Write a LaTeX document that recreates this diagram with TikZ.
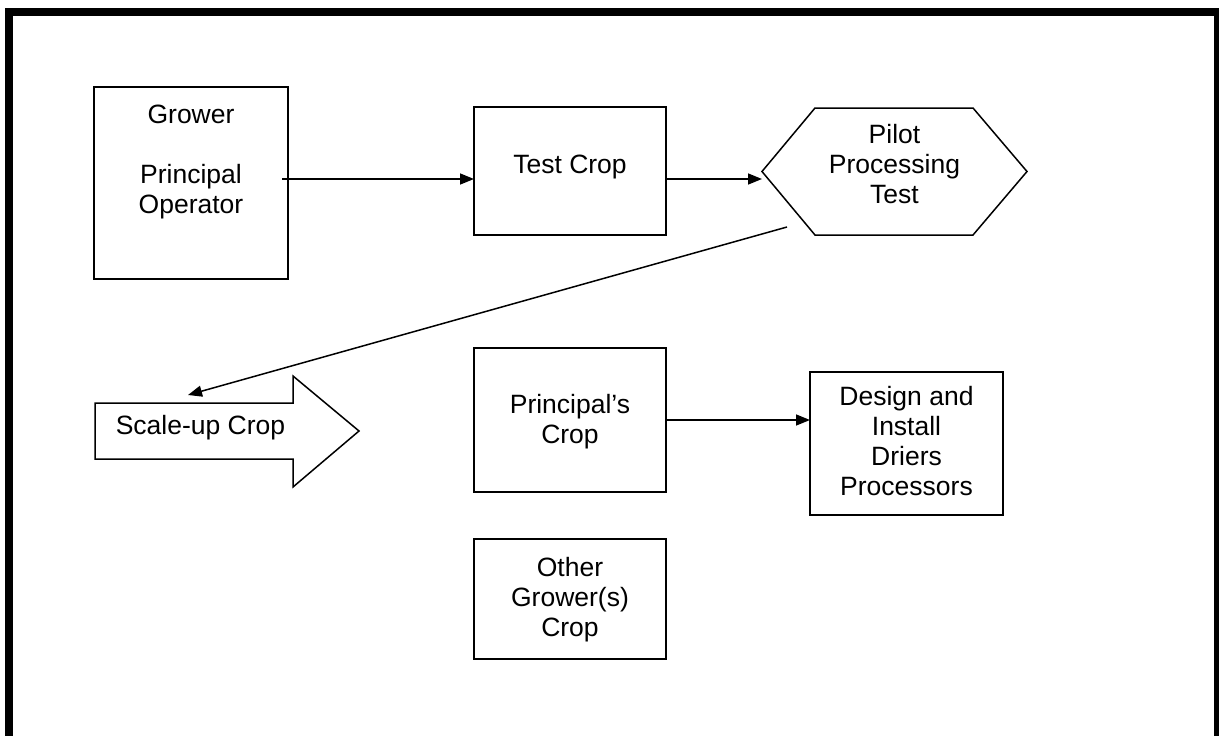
\documentclass[tikz,border=0pt]{standalone}
\usepackage{fontspec}
\setmainfont{Liberation Sans}
\usetikzlibrary{arrows.meta}
\newcommand\btext[4]{\parbox[c][#2][t]{#1}{\centering\vspace*{#3}\strut #4\par}}
\tikzset{
  box/.style={draw, line width=1.5pt, inner sep=0pt, outer sep=0pt},
  hexbox/.style={draw=none, inner sep=0pt, outer sep=0pt},
  arr/.style={line width=1.5pt, -{Triangle[length=14pt,width=11pt]}},
  frame/.style={line width=8pt}
}
\begin{document}
\begin{tikzpicture}[x=1pt,y=-1pt,font=\fontsize{26.5pt}{30pt}\selectfont]
\useasboundingbox (0,0) rectangle (1219,736);
\clip (0,0) rectangle (1219,736);
\fill[white] (0,0) rectangle (1219,736);
\draw[frame] (9,12) rectangle (1218,760);

\node[box] (grower) at (191,183) {\btext{194pt}{192pt}{15pt}{Grower\\\strut\\Principal\\Operator}};
\node[box] (test) at (570,171) {\btext{192pt}{128pt}{45pt}{Test Crop}};
\node[hexbox] (hex) at (894.5,171.5) {\btext{265pt}{127pt}{14pt}{Pilot\\Processing\\Test}};
\draw[line width=1.5pt] (hex.west) -- ([xshift=53pt]hex.north west) -- ([xshift=-54pt]hex.north east)
  -- (hex.east) -- ([xshift=-54pt]hex.south east) -- ([xshift=53pt]hex.south west) -- cycle;

\node[hexbox] (scale) at (194,431) {\btext{198pt}{56pt}{10pt}{\hspace*{13pt}Scale-up Crop}};
\draw[line width=1.5pt] (scale.north west) -- (scale.north east) -- ([yshift=27pt]scale.north east)
  -- ([xshift=66pt]scale.east) -- ([yshift=-28pt]scale.south east) -- (scale.south east)
  -- (scale.south west) -- cycle;

\node[box] (princ) at (570,420) {\btext{192pt}{144pt}{44pt}{Principal’s\\Crop}};
\node[box] (design) at (906.5,443.5) {\btext{193pt}{143pt}{12pt}{Design and\\Install\\Driers\\Processors}};
\node[box] (other) at (570,599) {\btext{192pt}{120pt}{16pt}{Other\\Grower(s)\\Crop}};

\coordinate (a1) at ([xshift=-6pt,yshift=4pt]grower.east);
\draw[arr] (a1) -- (a1 -| test.west);
\coordinate (a2) at ([yshift=-8pt]test.east);
\draw[arr] (a2) -- (a2 -| hex.west);
\coordinate (p1) at (787,227);
\coordinate (p2) at (188,395);
\draw[arr] (p1) -- (p2);
\draw[arr] (princ.east) -- (princ.east -| design.west);
\end{tikzpicture}
\end{document}
